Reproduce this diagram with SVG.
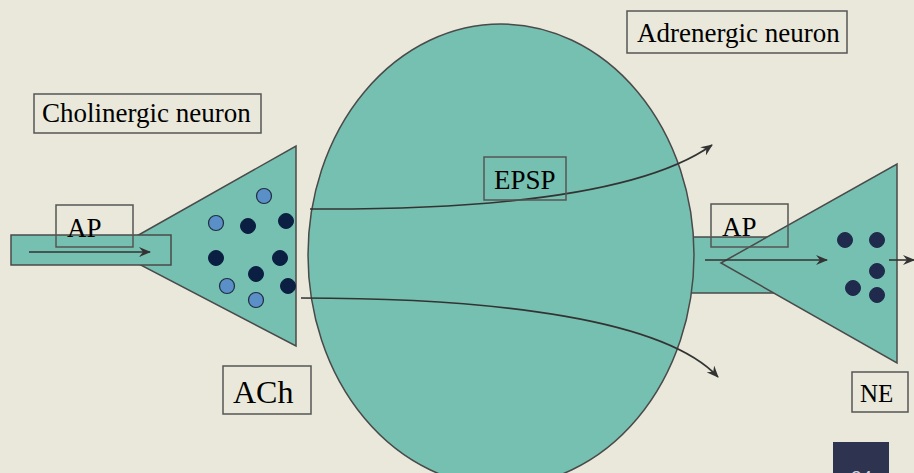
<svg xmlns="http://www.w3.org/2000/svg" width="914" height="473" viewBox="0 0 914 473">
<defs>
<style>
.cell{fill:#76C0B1;stroke:#4a4a4a;stroke-width:1.5}
.lbl{fill:none;stroke:#555;stroke-width:1.5}
.t{font-family:"Liberation Serif",serif;font-size:27px;fill:#000}
.ves-l{fill:#5B8FC7;stroke:#1f2d3f;stroke-width:1.2}
.ves-d{fill:#0B1F42;stroke:#0B1F42;stroke-width:1}
.ves-n{fill:#1F2A4C;stroke:#1F2A4C;stroke-width:1}
.conn{fill:none;stroke:#333;stroke-width:1.6}
</style>
<marker id="ah" viewBox="0 0 12 10" refX="11" refY="5" markerWidth="12" markerHeight="10" markerUnits="userSpaceOnUse" orient="auto">
<path d="M0,0 L12,5 L0,10 L4,5 Z" fill="#333"/>
</marker>
</defs>
<rect width="914" height="473" fill="#E9E8DA"/>

<g id="adrenergic-axon">
<rect class="cell" x="660" y="237" width="120" height="56"/>
</g>
<g id="synapse-cell">
<ellipse class="cell" cx="501" cy="255" rx="193" ry="231"/>
</g>
<g id="cholinergic-terminal">
<polygon class="cell" points="112,250 296,146 296,346"/>
<rect class="cell" x="11" y="235" width="160" height="30"/>
<circle class="ves-l" cx="264" cy="196" r="7.5"/>
<circle class="ves-l" cx="216" cy="223" r="7.5"/>
<circle class="ves-d" cx="248" cy="226" r="7.5"/>
<circle class="ves-d" cx="286" cy="221" r="7.5"/>
<circle class="ves-d" cx="216" cy="258" r="7.5"/>
<circle class="ves-d" cx="280" cy="258" r="7.5"/>
<circle class="ves-d" cx="256" cy="274" r="7.5"/>
<circle class="ves-l" cx="227" cy="286" r="7.5"/>
<circle class="ves-d" cx="288" cy="286" r="7.5"/>
<circle class="ves-l" cx="256" cy="300" r="7.5"/>
</g>
<g id="adrenergic-terminal">
<polygon class="cell" points="721,263 897,164 897,363"/>
<circle class="ves-n" cx="845" cy="240" r="7.5"/>
<circle class="ves-n" cx="877" cy="240" r="7.5"/>
<circle class="ves-n" cx="877" cy="271" r="7.5"/>
<circle class="ves-n" cx="853" cy="288" r="7.5"/>
<circle class="ves-n" cx="877" cy="295" r="7.5"/>
</g>

<g id="connectors">
<line class="conn" x1="29" y1="252" x2="150" y2="252" marker-end="url(#ah)"/>
<line class="conn" x1="705" y1="260" x2="827" y2="260" marker-end="url(#ah)"/>
<line class="conn" x1="889" y1="260" x2="914" y2="260" marker-end="url(#ah)"/>
<path class="conn" d="M310,209 C480,210 640,196 712,145" marker-end="url(#ah)"/>
<path class="conn" d="M301,298 C500,298 665,320 718,377" marker-end="url(#ah)"/>
</g>

<g id="label-cholinergic">
<rect class="lbl" x="34" y="94" width="227" height="39"/>
<text class="t" x="42" y="122">Cholinergic neuron</text>
</g>
<g id="label-adrenergic">
<rect class="lbl" x="627" y="11" width="220" height="42"/>
<text class="t" x="637" y="42">Adrenergic neuron</text>
</g>
<g id="label-ap1">
<rect class="lbl" x="56" y="205" width="77" height="42"/>
<text class="t" x="67" y="237">AP</text>
</g>
<g id="label-ap2">
<rect class="lbl" x="711" y="204" width="77" height="43"/>
<text class="t" x="722" y="236">AP</text>
</g>
<g id="label-epsp">
<rect class="lbl" x="484" y="157" width="82" height="43"/>
<text class="t" x="494" y="189">EPSP</text>
</g>
<g id="label-ach">
<rect class="lbl" x="223" y="366" width="88" height="48"/>
<text class="t" x="233" y="403" style="font-size:32px">ACh</text>
</g>
<g id="label-ne">
<rect class="lbl" x="852" y="372" width="56" height="40"/>
<text class="t" x="860" y="402" style="font-size:25px">NE</text>
</g>
<g id="page-number">
<rect x="833" y="442" width="56" height="31" fill="#2E3350"/>
<text x="851" y="484" style="font-family:'Liberation Sans',sans-serif;font-size:19px;fill:#d0d0dc">34</text>
</g>
</svg>
